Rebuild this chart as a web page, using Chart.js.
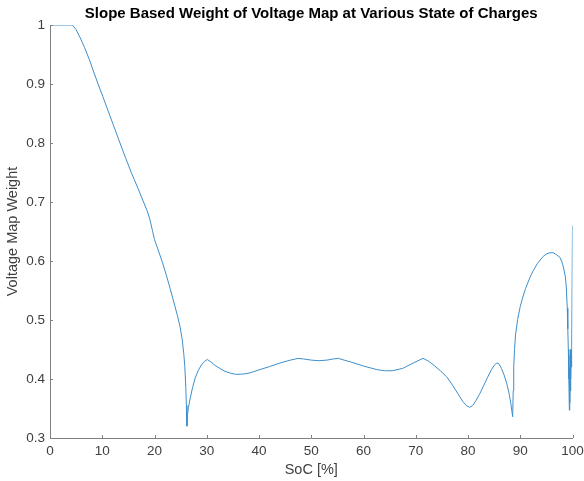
<!DOCTYPE html>
<html>
<head>
<meta charset="utf-8">
<script src="https://cdn.jsdelivr.net/npm/chart.js@4/dist/chart.umd.min.js"></script>
<style>
  html, body { margin: 0; padding: 0; background: #fff; }
  #c { display: block; }
</style>
</head>
<body>
<canvas id="c" width="584" height="481"></canvas>
<script>
// SoC [%] sample points and slope based weight
const soc = [0, 4.3, 5.0, 5.8, 6.6, 7.5, 8.3, 9.2, 10.1, 10.85, 12.1, 13.4, 14.5, 15.6, 16.8, 17.9, 18.6, 19.1,
  19.6, 20.0, 20.5, 21.5, 22.3, 23.0, 23.8, 24.4, 24.9, 25.3, 25.6, 25.8, 26.0, 26.1, 26.2,
  26.3, 26.5, 26.8, 27.3, 27.8, 28.4, 29.0, 29.6, 30.1, 30.8, 31.6, 32.5, 33.5, 34.5, 35.5, 36.4, 37.5, 38.5,
  40.2, 42.0, 44.0, 46.0, 47.5, 48.5, 50.0, 51.5, 53.0, 54.2, 55.2, 56.3, 57.5, 60.0, 62.5, 64.0, 65.5, 67.5,
  69.5, 71.4, 72.5, 73.5, 74.7, 75.9, 77.0, 78.0, 79.0, 79.7, 80.3, 80.9, 81.5, 82.2, 82.9, 83.7, 84.5, 85.1,
  85.5, 85.9, 86.4, 86.9, 87.4, 87.9, 88.2, 88.55, 88.65, 88.75, 88.9, 89.1, 89.5, 90.0, 90.5, 91.0, 91.9,
  92.5, 93.3, 94.3, 95.0, 95.7, 96.3, 96.9, 97.6, 98.0, 98.3, 98.6, 98.8, 99.0, 99.1, 99.2, 99.3, 99.4,
  99.45, 99.5, 99.55, 99.6, 99.65, 99.7, 99.75, 99.8, 99.85, 99.9, 100];
const weight = [1, 1, 0.992, 0.978, 0.962, 0.942, 0.922, 0.9, 0.879, 0.861, 0.831, 0.8, 0.774, 0.749, 0.724, 0.7, 0.685, 0.671,
  0.652, 0.636, 0.624, 0.598, 0.575, 0.553, 0.527, 0.507, 0.488, 0.467, 0.443, 0.421, 0.385, 0.355, 0.32,
  0.338, 0.352, 0.366, 0.386, 0.402, 0.415, 0.424, 0.43, 0.433, 0.429, 0.423, 0.418, 0.413, 0.41, 0.408, 0.408, 0.409, 0.411,
  0.416, 0.421, 0.427, 0.432, 0.435, 0.434, 0.432, 0.431, 0.432, 0.434, 0.435, 0.432, 0.429, 0.422, 0.416, 0.414, 0.414, 0.418,
  0.427, 0.435, 0.43, 0.423, 0.414, 0.404, 0.39, 0.376, 0.362, 0.355, 0.352, 0.355, 0.363, 0.374, 0.387, 0.402, 0.416, 0.424,
  0.427, 0.426, 0.418, 0.407, 0.393, 0.374, 0.358, 0.336, 0.38, 0.42, 0.45, 0.475, 0.501, 0.523, 0.539, 0.553, 0.573,
  0.584, 0.596, 0.607, 0.612, 0.614, 0.614, 0.611, 0.606, 0.598, 0.588, 0.575, 0.558, 0.52, 0.485, 0.45, 0.4, 0.347,
  0.42, 0.36, 0.44, 0.38, 0.45, 0.4, 0.45, 0.42, 0.44, 0.45, 0.66];

const xTicks = [0, 10, 20, 30, 40, 50, 60, 70, 80, 90, 100];
const yTicks = [0.3, 0.4, 0.5, 0.6, 0.7, 0.8, 0.9, 1];

const titleText = 'Slope Based Weight of Voltage Map at Various State of Charges';
const FONT = '"Liberation Sans", Arial, sans-serif';
const axisColor = '#808080';
const textColor = '#404040';

// matlab style ticks pointing into the plot + title centred on the axes
const matlabAxes = {
  id: 'matlabAxes',
  afterDraw(chart) {
    const ctx = chart.ctx, a = chart.chartArea;
    const xs = chart.scales.x, ys = chart.scales.y;
    ctx.save();
    ctx.strokeStyle = axisColor;
    ctx.lineWidth = 1;
    ctx.beginPath();
    xTicks.forEach(v => {
      const px = Math.round(xs.getPixelForValue(v)) + 0.5;
      ctx.moveTo(px, a.bottom);
      ctx.lineTo(px, a.bottom - 3);
    });
    yTicks.forEach(v => {
      const py = Math.round(ys.getPixelForValue(v)) + 0.5;
      ctx.moveTo(a.left, py);
      ctx.lineTo(a.left + 3, py);
    });
    ctx.stroke();
    ctx.fillStyle = '#000';
    ctx.font = 'bold 15px ' + FONT;
    ctx.textAlign = 'center';
    ctx.textBaseline = 'middle';
    ctx.fillText(titleText, (a.left + a.right) / 2, 14);
    ctx.restore();
  }
};

const points = soc.map((s, i) => ({ x: s, y: weight[i] }));

new Chart(document.getElementById('c'), {
  type: 'line',
  data: {
    datasets: [{
      data: points,
      borderColor: '#3d8fcc',
      borderWidth: 1,
      pointRadius: 0,
      tension: 0,
      fill: false
    }]
  },
  options: {
    responsive: false,
    animation: false,
    layout: { padding: { top: 25, right: 11.5, left: 0, bottom: 0 } },
    plugins: {
      legend: { display: false },
      title: { display: false },
      tooltip: { enabled: false }
    },
    scales: {
      x: {
        type: 'linear',
        min: 0,
        max: 100,
        afterFit: s => { s.height = 43; s.paddingLeft = 0; s.paddingRight = 0; },
        afterBuildTicks: s => { s.ticks = xTicks.map(v => ({ value: v })); },
        grid: { display: true, drawOnChartArea: false, drawTicks: false },
        border: { display: true, color: axisColor, width: 1 },
        ticks: { color: textColor, font: { family: FONT, size: 13.5 }, padding: 5, maxRotation: 0 },
        title: {
          display: true, text: 'SoC [%]', color: textColor,
          font: { family: FONT, size: 14.5 }, padding: { top: 0, bottom: 2 }
        }
      },
      y: {
        type: 'linear',
        min: 0.3,
        max: 1,
        afterFit: s => { s.width = 50; s.paddingTop = 0; s.paddingBottom = 0; },
        afterBuildTicks: s => { s.ticks = yTicks.map(v => ({ value: v })); },
        grid: { display: true, drawOnChartArea: false, drawTicks: false },
        border: { display: true, color: axisColor, width: 1 },
        ticks: {
          color: textColor, font: { family: FONT, size: 13.5 }, padding: 5,
          callback: v => String(Math.round(v * 10) / 10)
        },
        title: {
          display: true, text: 'Voltage Map Weight', color: textColor,
          font: { family: FONT, size: 14.5 }, padding: { top: 4, bottom: 0 }
        }
      }
    }
  },
  plugins: [matlabAxes]
});
</script>
</body>
</html>
